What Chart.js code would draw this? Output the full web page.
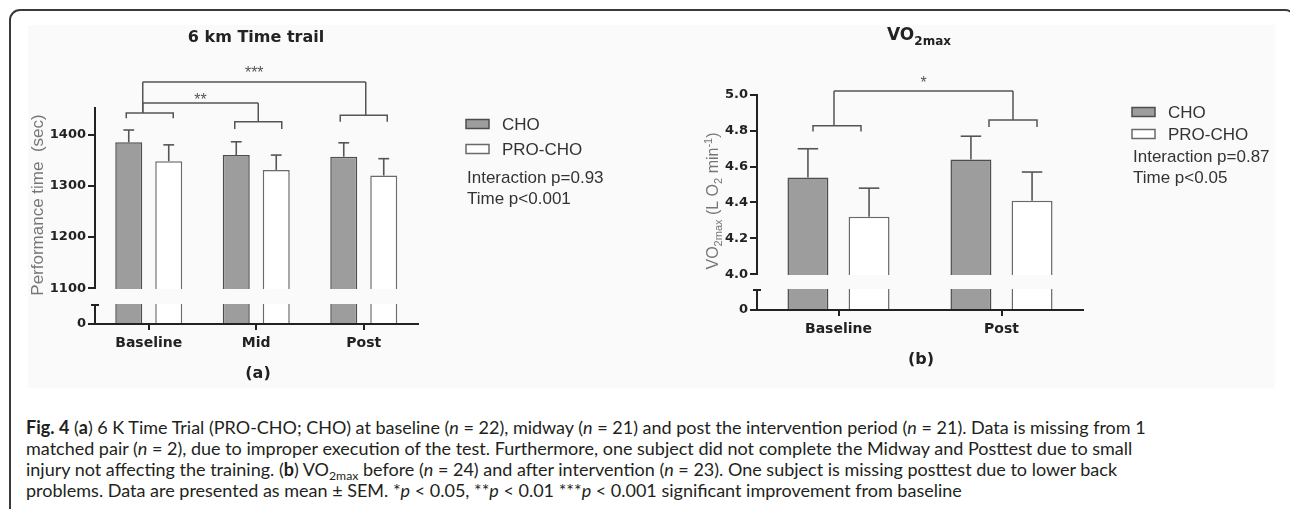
<!DOCTYPE html>
<html>
<head>
<meta charset="utf-8">
<script src="https://cdn.jsdelivr.net/npm/chart.js@4.4.0/dist/chart.umd.min.js"></script>
<style>
  html, body { margin: 0; padding: 0; background: #fff; }
  #page { position: relative; width: 1290px; height: 509px; overflow: hidden; }
  #frame { position: absolute; left: 9px; top: 9px; width: 1287px; height: 540px; border: 2px solid #3a3a3a; border-radius: 11px 11px 0 0; box-sizing: border-box; }
  #panel { position: absolute; left: 28px; top: 25px; width: 1247px; height: 363px; background: #fafafa; }
  canvas { position: absolute; top: 0; }
  #chartA { left: 0; }
  #chartB { left: 640px; }
  #caption { position: absolute; left: 26px; top: 417px; font-family: Lato, "Open Sans", sans-serif; font-size: 18px; line-height: 21px; color: #231f20; transform-origin: 0 0; }
  #caption div { white-space: nowrap; }
  #caption b { font-weight: bold; }
  #caption sub { font-size: 0.68em; vertical-align: -0.3em; line-height: 0; }
</style>
</head>
<body>
<div id="page">
  <div id="frame"></div>
  <div id="panel"></div>
  <canvas id="chartA" width="640" height="400"></canvas>
  <canvas id="chartB" width="650" height="400"></canvas>
  <div id="caption">
    <div id="capLine1"><b>Fig. 4</b> (<b>a</b>) 6 K Time Trial (PRO-CHO; CHO) at baseline (<i>n</i> = 22), midway (<i>n</i> = 21) and post the intervention period (<i>n</i> = 21). Data is missing from 1</div>
    <div>matched pair (<i>n</i> = 2), due to improper execution of the test. Furthermore, one subject did not complete the Midway and Posttest due to small</div>
    <div>injury not affecting the training. (<b>b</b>) VO<sub>2max</sub> before (<i>n</i> = 24) and after intervention (<i>n</i> = 23). One subject is missing posttest due to lower back</div>
    <div>problems. Data are presented as mean ± SEM. *<i>p</i> &lt; 0.05, **<i>p</i> &lt; 0.01 ***<i>p</i> &lt; 0.001 significant improvement from baseline</div>
  </div>
</div>
<script>
// ---- data ----
const seriesNames = ['CHO', 'PRO-CHO'];

// (a) 6 km time trial, seconds
const timeCategories = ['Baseline', 'Mid', 'Post'];
const timeCho = [1385, 1360, 1357];
const timeChoSem = [24, 26, 27];
const timeProCho = [1348, 1331, 1320];
const timeProChoSem = [32, 29, 33];
const timeTicks = [1100, 1200, 1300, 1400];
const timeStats = ['Interaction p=0.93', 'Time p<0.001'];

// (b) VO2max, L O2 / min
const vo2Categories = ['Baseline', 'Post'];
const vo2Cho = [4.54, 4.64];
const vo2ChoSem = [0.16, 0.13];
const vo2ProCho = [4.32, 4.41];
const vo2ProChoSem = [0.16, 0.16];
const vo2Ticks = [4.0, 4.2, 4.4, 4.6, 4.8, 5.0];
const vo2Stats = ['Interaction p=0.87', 'Time p<0.05'];

// significance brackets (heights in axis units)
const timeBrackets = [
  { cat: 0, y: 1442, drop: 1432 },
  { cat: 1, y: 1425, drop: 1411 },
  { cat: 2, y: 1438, drop: 1425 }
];
const timeLinks = [
  { from: 0, to: 1, y: 1462, text: '**' },
  { from: 0, to: 2, y: 1503, text: '***' }
];
const vo2Brackets = [
  { cat: 0, y: 4.828, drop: 4.796 },
  { cat: 1, y: 4.861, drop: 4.822 }
];
const vo2Links = [
  { from: 0, to: 1, y: 5.023, text: '*' }
];

const INK = '#222';
const LINE = '#555';
const DEJAVU = '"DejaVu Sans"';
const ARIAL = '"Liberation Sans"';

// текст с подстрочными индексами, центр по x
function richText(ctx, parts, x, y, family, color) {
  let total = 0;
  parts.forEach(p => {
    ctx.font = (p.weight || 'normal') + ' ' + p.size + 'px ' + family;
    p.w = ctx.measureText(p.text).width;
    total += p.w;
  });
  let cx = x - total / 2;
  ctx.fillStyle = color;
  ctx.textAlign = 'left';
  ctx.textBaseline = 'alphabetic';
  parts.forEach(p => {
    ctx.font = (p.weight || 'normal') + ' ' + p.size + 'px ' + family;
    ctx.fillText(p.text, cx, y + (p.dy || 0));
    cx += p.w;
  });
}

function line(ctx, x1, y1, x2, y2) {
  ctx.beginPath();
  ctx.moveTo(x1, y1);
  ctx.lineTo(x2, y2);
  ctx.stroke();
}

function figurePlugin(spec) {
  return {
    id: 'figure' + spec.id,
    afterDatasetsDraw(chart) {
      const ctx = chart.ctx;
      const area = chart.chartArea;
      const ys = chart.scales.y;
      const xs = chart.scales.x;
      ctx.save();

      // error bars, upper half only
      ctx.strokeStyle = LINE;
      ctx.lineWidth = 1.6;
      chart.data.datasets.forEach((ds, i) => {
        chart.getDatasetMeta(i).data.forEach((bar, j) => {
          const yEnd = ys.getPixelForValue(ds.data[j] + ds.sem[j]);
          const half = bar.width * spec.capRatio / 2;
          line(ctx, bar.x, bar.y, bar.x, yEnd);
          line(ctx, bar.x - half, yEnd, bar.x + half, yEnd);
        });
      });

      // разрыв оси
      const yBreak = ys.getPixelForValue(spec.breakAt);
      const yStub = area.bottom - spec.stubHeight;
      ctx.clearRect(area.left - 5, yBreak + 1.2, area.right - area.left + 8, yStub - yBreak - 2.2);
      ctx.strokeStyle = INK;
      ctx.lineWidth = 2;
      line(ctx, area.left - 4, yStub, area.left + 4, yStub);
      line(ctx, area.left - 3, area.bottom, area.right, area.bottom);

      // brackets
      ctx.strokeStyle = LINE;
      ctx.lineWidth = 1.5;
      const stems = spec.brackets.map((b, k) => {
        const c = xs.getPixelForValue(b.cat) + spec.bracketShift[k];
        const yb = ys.getPixelForValue(b.y);
        const yd = ys.getPixelForValue(b.drop);
        const h = spec.bracketHalf;
        ctx.beginPath();
        ctx.moveTo(c - h, yd);
        ctx.lineTo(c - h, yb);
        ctx.lineTo(c + h, yb);
        ctx.lineTo(c + h, yd);
        ctx.stroke();
        return { x: xs.getPixelForValue(b.cat) + spec.stemShift[k], y: yb };
      });
      spec.links.forEach((l, k) => {
        const yl = ys.getPixelForValue(l.y);
        const a = stems[l.from], b = stems[l.to];
        line(ctx, a.x, a.y, a.x, yl);
        line(ctx, b.x, b.y, b.x, yl);
        line(ctx, a.x, yl, b.x, yl);
        ctx.fillStyle = LINE;
        ctx.font = '16px ' + ARIAL;
        ctx.textAlign = 'center';
        ctx.textBaseline = 'middle';
        ctx.fillText(l.text, (a.x + b.x) / 2, yl - spec.starLift[k] + 3.5);
      });

      // legend
      const lg = spec.legend;
      chart.data.datasets.forEach((ds, i) => {
        const ry = lg.rows[i];
        ctx.fillStyle = ds.backgroundColor;
        ctx.fillRect(lg.x, ry - 4.5, 23, 9);
        ctx.strokeStyle = ds.borderColor;
        ctx.lineWidth = 1.5;
        ctx.strokeRect(lg.x, ry - 4.5, 23, 9);
        ctx.fillStyle = '#333';
        ctx.font = '17px ' + ARIAL;
        ctx.textAlign = 'left';
        ctx.textBaseline = 'middle';
        ctx.fillText(ds.label, lg.x + 36, ry + 1);
      });
      spec.stats.forEach((s, i) => {
        ctx.fillStyle = '#333';
        ctx.font = '17px ' + ARIAL;
        ctx.textAlign = 'left';
        ctx.textBaseline = 'middle';
        ctx.fillText(s, lg.x + 1, lg.statRows[i] + 1);
      });

      // titles
      richText(ctx, spec.title, spec.titlePos[0], spec.titlePos[1], DEJAVU, INK);
      ctx.save();
      ctx.translate(spec.yTitlePos[0], spec.yTitlePos[1]);
      ctx.rotate(-Math.PI / 2);
      richText(ctx, spec.yTitle, 0, 0, ARIAL, '#777');
      ctx.restore();
      ctx.fillStyle = INK;
      ctx.font = 'bold 16px ' + DEJAVU;
      ctx.textAlign = 'center';
      ctx.textBaseline = 'middle';
      ctx.fillText(spec.panel, spec.panelPos[0], spec.panelPos[1]);

      ctx.restore();
    }
  };
}

function buildChart(canvasId, spec) {
  const canvas = document.getElementById(canvasId);
  const a = spec.area;
  return new Chart(canvas, {
    type: 'bar',
    data: {
      labels: spec.labels,
      datasets: [
        { label: seriesNames[0], data: spec.cho, sem: spec.choSem, backgroundColor: '#9d9d9d', borderColor: '#4d4d4d' },
        { label: seriesNames[1], data: spec.pro, sem: spec.proSem, backgroundColor: '#ffffff', borderColor: '#6a6a6a' }
      ]
    },
    options: {
      responsive: false,
      animation: false,
      devicePixelRatio: 1,
      layout: { padding: { left: 0, top: a.top, right: canvas.width - a.right, bottom: 0 } },
      datasets: {
        bar: { borderWidth: 1.5, borderSkipped: 'start', categoryPercentage: spec.catPct, barPercentage: spec.barPct }
      },
      plugins: { legend: { display: false }, tooltip: { enabled: false } },
      scales: {
        x: {
          afterFit: s => { s.height = canvas.height - a.bottom; },
          grid: { display: true, drawOnChartArea: false, offset: false, tickLength: 6, color: INK, lineWidth: 2 },
          border: { display: true, color: INK, width: 2 },
          ticks: { padding: 5, color: INK, font: { family: 'DejaVu Sans', weight: 'bold', size: 14 } }
        },
        y: {
          min: spec.yMin,
          max: spec.yMax,
          afterFit: s => { s.width = a.left; },
          afterBuildTicks: s => { s.ticks = [spec.yMin].concat(spec.ticks).map(v => ({ value: v })); },
          grid: { drawOnChartArea: false, tickLength: 7, color: INK, lineWidth: 2 },
          border: { display: true, color: INK, width: 2 },
          ticks: {
            padding: 2,
            color: INK,
            font: { family: 'DejaVu Sans', weight: 'bold', size: 13 },
            callback: (v, i) => i === 0 ? '0' : spec.fmt(v)
          }
        }
      }
    },
    plugins: [figurePlugin(spec)]
  });
}

buildChart('chartA', {
  id: 'A',
  labels: timeCategories,
  cho: timeCho, choSem: timeChoSem,
  pro: timeProCho, proSem: timeProChoSem,
  ticks: timeTicks, stats: timeStats,
  brackets: timeBrackets, links: timeLinks,
  fmt: v => String(v),
  area: { left: 95, right: 417.5, top: 108, bottom: 324 },
  yMin: 1030, yMax: 1452, breakAt: 1100, stubHeight: 19,
  catPct: 0.744, barPct: 0.675, capRatio: 0.4,
  bracketHalf: 23.5, bracketShift: [1, 2, 0], stemShift: [-6, 2, 2], starLift: [6, 12],
  legend: { x: 466, rows: [124, 149], statRows: [177, 198] },
  title: [{ text: '6 km Time trail', size: 16, weight: 'bold' }],
  titlePos: [256, 42],
  yTitle: [{ text: 'Performance time  (sec)', size: 17 }],
  yTitlePos: [43, 205],
  panel: '(a)', panelPos: [258, 374]
});

buildChart('chartB', {
  id: 'B',
  labels: vo2Categories,
  cho: vo2Cho, choSem: vo2ChoSem,
  pro: vo2ProCho, proSem: vo2ProChoSem,
  ticks: vo2Ticks, stats: vo2Stats,
  brackets: vo2Brackets, links: vo2Links,
  fmt: v => v.toFixed(1),
  area: { left: 117, right: 443, top: 95, bottom: 310 },
  yMin: 3.8, yMax: 5.0, breakAt: 4.0, stubHeight: 20,
  catPct: 0.75, barPct: 0.67, capRatio: 0.5,
  bracketHalf: 24, bracketShift: [-1.5, 11.5], stemShift: [-4.5, 11.5], starLift: [11],
  legend: { x: 492, rows: [112, 134], statRows: [156, 177] },
  title: [{ text: 'VO', size: 17, weight: 'bold' }, { text: '2max', size: 12, weight: 'bold', dy: 5 }],
  titlePos: [279, 40],
  yTitle: [
    { text: 'VO', size: 16 }, { text: '2max', size: 11, dy: 4 },
    { text: ' (L O', size: 16 }, { text: '2', size: 11, dy: 4 },
    { text: ' min', size: 16 }, { text: '-1', size: 11, dy: -6 },
    { text: ')', size: 16 }
  ],
  yTitlePos: [78, 201],
  panel: '(b)', panelPos: [281, 360]
});

// подгонка ширины подписи под оригинал
function fitCaption() {
  const cap = document.getElementById('caption');
  const w = document.getElementById('capLine1').getBoundingClientRect().width;
  cap.style.transform = 'scaleX(' + (1232 / w) + ')';
}
fitCaption();
if (document.fonts && document.fonts.ready) document.fonts.ready.then(fitCaption);
</script>
</body>
</html>
